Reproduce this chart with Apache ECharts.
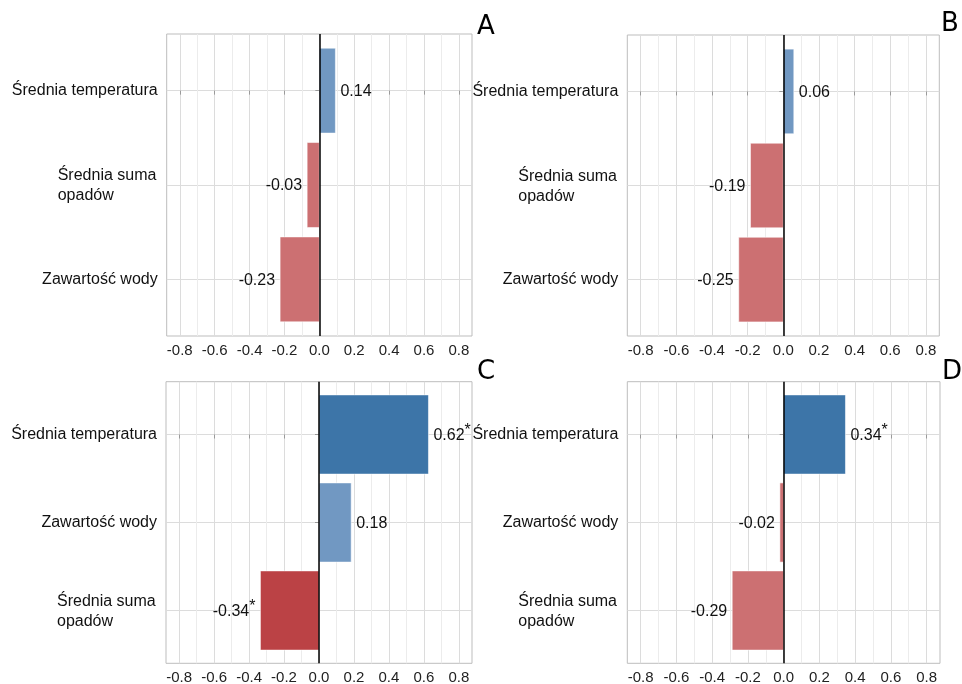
<!DOCTYPE html>
<html><head><meta charset="utf-8">
<script src="https://cdn.jsdelivr.net/npm/echarts@6/dist/echarts.min.js"></script>
<style>html,body{margin:0;padding:0;background:#fff}#c{width:962px;height:684px}</style>
</head><body><div id="c"></div>
<script>
// ---------- data ----------
const panelLetters = ['A', 'B', 'C', 'D'];
const catsA = ['Średnia temperatura', 'Średnia suma\nopadów', 'Zawartość wody'];
const catsB = ['Średnia temperatura', 'Średnia suma\nopadów', 'Zawartość wody'];
const catsC = ['Średnia temperatura', 'Zawartość wody', 'Średnia suma\nopadów'];
const catsD = ['Średnia temperatura', 'Zawartość wody', 'Średnia suma\nopadów'];
const barsA = [0.092, -0.070, -0.225];
const barsB = [0.059, -0.184, -0.250];
const barsC = [0.626, 0.184, -0.335];
const barsD = [0.346, -0.021, -0.288];
const labelsA = ['0.14', '-0.03', '-0.23'];
const labelsB = ['0.06', '-0.19', '-0.25'];
const labelsC = ['0.62', '0.18', '-0.34'];
const labelsD = ['0.34', '-0.02', '-0.29'];
const signifA = [false, false, false];
const signifB = [false, false, false];
const signifC = [true, false, true];
const signifD = [true, false, false];
const xTicks = [-0.8, -0.6, -0.4, -0.2, 0.0, 0.2, 0.4, 0.6, 0.8];
const xMinorTicks = [-0.7, -0.5, -0.3, -0.1, 0.1, 0.3, 0.5, 0.7];

// ---------- styling / layout ----------
const FONT_FAMILY = '"Liberation Sans", Arial, sans-serif';
const DARK_BLUE = '#3d75a8', PALE_BLUE = '#7198c2';
const DARK_RED = '#bb4245', PALE_RED = '#cc7072';
const GAP = 5;
const VAL_FS = 16, CAT_FS = 16;
const panels = [
  { cats: catsA, bars: barsA, labels: labelsA, sig: signifA, grid: { left: 166.7, top: 34, width: 305.3, height: 302 }, letter: [486, 27] },
  { cats: catsB, bars: barsB, labels: labelsB, sig: signifB, grid: { left: 627.3, top: 35, width: 312, height: 301 }, letter: [950, 24] },
  { cats: catsC, bars: barsC, labels: labelsC, sig: signifC, grid: { left: 166, top: 381.7, width: 306, height: 281.6 }, letter: [486, 372] },
  { cats: catsD, bars: barsD, labels: labelsD, sig: signifD, grid: { left: 627.3, top: 381.7, width: 312.7, height: 281.6 }, letter: [952, 372] }
];

const mctx = document.createElement('canvas').getContext('2d');
function measure(t, size) { mctx.font = size + 'px ' + FONT_FAMILY; return mctx.measureText(t).width; }
const multiW = Math.ceil(measure('Średnia suma', CAT_FS)) + 1;

function makeRender(labels, sig) {
  return function (params, api) {
    const i = params.dataIndex;
    const v = api.value(0), yi = api.value(1);
    const p0 = api.coord([0, yi]), p1 = api.coord([v, yi]);
    const h = Math.abs(api.size([0, 0.9])[1]);
    const s = sig[i];
    const fill = v >= 0 ? (s ? DARK_BLUE : PALE_BLUE) : (s ? DARK_RED : PALE_RED);
    const children = [{
      type: 'rect',
      shape: { x: Math.min(p0[0], p1[0]), y: p0[1] - h / 2, width: Math.abs(p1[0] - p0[0]), height: h },
      style: { fill: fill, stroke: 'rgba(255,255,255,0.55)', lineWidth: 1 }
    }];
    const font = VAL_FS + 'px ' + FONT_FAMILY;
    const txt = labels[i];
    const y = p1[1] + 1;
    if (v >= 0) {
      const lx = p1[0] + GAP;
      children.push({ type: 'text', style: { x: lx, y: y, text: txt, font: font, fill: '#111', align: 'left', verticalAlign: 'middle' } });
      if (s) children.push({ type: 'text', style: { x: lx + measure(txt, VAL_FS), y: y - 5, text: '*', font: font, fill: '#111', align: 'left', verticalAlign: 'middle' } });
    } else {
      const rx = p1[0] - GAP;
      let off = 0;
      if (s) {
        children.push({ type: 'text', style: { x: rx, y: y - 5, text: '*', font: font, fill: '#111', align: 'right', verticalAlign: 'middle' } });
        off = measure('*', VAL_FS);
      }
      children.push({ type: 'text', style: { x: rx - off, y: y, text: txt, font: font, fill: '#111', align: 'right', verticalAlign: 'middle' } });
    }
    return { type: 'group', children: children };
  };
}

const option = {
  animation: false,
  backgroundColor: '#fff',
  grid: [], xAxis: [], yAxis: [], series: [], graphic: []
};

panels.forEach((p, g) => {
  option.grid.push(Object.assign({
    show: true, borderColor: '#bdbdbd', borderWidth: 1, backgroundColor: '#fff',
    containLabel: false, outerBoundsMode: 'none'
  }, p.grid));
  // main x axis
  option.xAxis.push({
    gridIndex: g, type: 'value', min: -0.875, max: 0.875, position: 'bottom',
    axisLine: { show: false },
    axisTick: { show: true, customValues: xTicks, length: 4, lineStyle: { color: '#9a9a9a' } },
    axisLabel: { customValues: xTicks, formatter: v => (Math.abs(v) < 1e-9 ? 0 : v).toFixed(1), margin: 7,
                 fontSize: 15, fontFamily: FONT_FAMILY, color: '#222' },
    splitLine: { show: true, lineStyle: { color: '#dcdcdc', width: 1 } }
  });
  // minor x axis (minor gridlines)
  option.xAxis.push({
    gridIndex: g, type: 'value', min: -0.875, max: 0.875, position: 'bottom',
    axisLine: { show: false },
    axisTick: { show: false, customValues: xMinorTicks },
    axisLabel: { show: false, customValues: xMinorTicks },
    splitLine: { show: true, lineStyle: { color: '#ececec', width: 1 } }
  });
  const cats = p.cats;
  option.yAxis.push({
    gridIndex: g, type: 'value', inverse: true, min: -0.6, max: 2.6,
    axisLine: { show: false },
    axisTick: { show: true, customValues: [0, 1, 2], length: 4, lineStyle: { color: '#9a9a9a' } },
    axisLabel: {
      customValues: [0, 1, 2], margin: 9, fontSize: CAT_FS, fontFamily: FONT_FAMILY, color: '#111',
      formatter: v => {
        const t = cats[Math.round(v)] || '';
        if (t.indexOf('\n') >= 0) return t.split('\n').map(l => '{m|' + l + '}').join('\n');
        return t;
      },
      rich: { m: { width: multiW, align: 'left', fontSize: CAT_FS, lineHeight: 20, fontFamily: FONT_FAMILY, color: '#111', padding: [2, 0, 0, 0] } }
    },
    splitLine: { show: true, lineStyle: { color: '#dcdcdc', width: 1 } }
  });
  option.series.push({
    type: 'custom', xAxisIndex: g * 2, yAxisIndex: g,
    data: p.bars.map((v, i) => [v, i]),
    encode: { x: 0, y: 1 },
    renderItem: makeRender(p.labels, p.sig),
    silent: true,
    markLine: {
      silent: true, symbol: ['none', 'none'], label: { show: false },
      lineStyle: { color: '#000', width: 1.5, type: 'solid' },
      data: [{ xAxis: 0 }]
    },
    z: 3
  });
  option.graphic.push({
    type: 'text', x: p.letter[0], y: p.letter[1],
    style: { text: panelLetters[g], font: '26px "DejaVu Sans", sans-serif', fill: '#000', align: 'center', verticalAlign: 'middle' }
  });
});

const chart = echarts.init(document.getElementById('c'), null, { renderer: 'canvas' });
chart.setOption(option);
</script>
</body></html>
